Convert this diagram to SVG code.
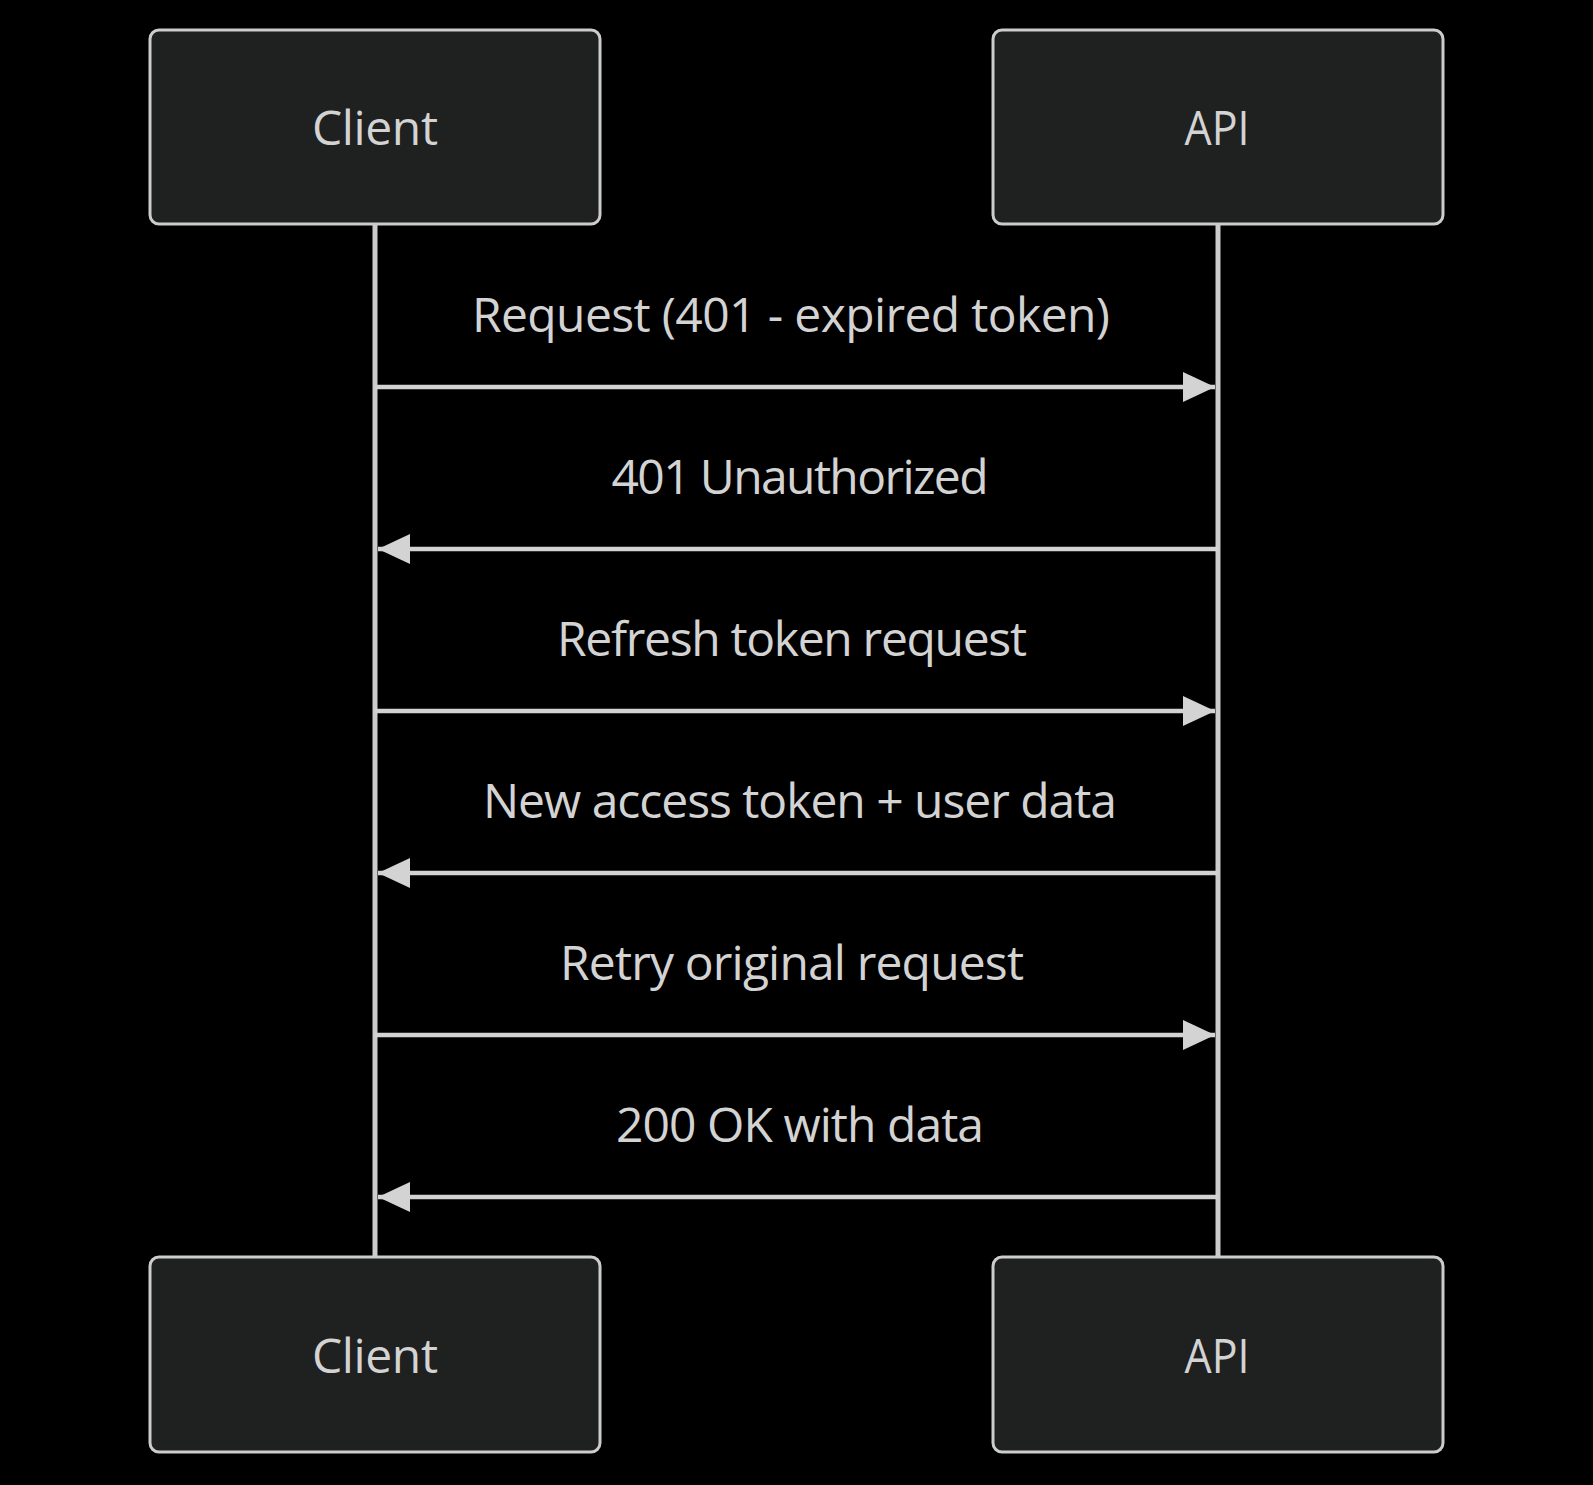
<svg xmlns="http://www.w3.org/2000/svg" width="1593" height="1485" viewBox="0 0 1593 1485">
<style>
.actor{fill:#1f2020;stroke:#cccccc;stroke-width:3}
.lbl{font-family:"Open Sans","Liberation Sans",sans-serif;font-size:48px;fill:#d3d3d3;text-anchor:middle}
.life{stroke:#cccccc;stroke-width:5}
.msg{stroke:#d3d3d3;stroke-width:4.5;fill:none;marker-end:url(#arrow)}
</style>
<defs>
<marker id="arrow" viewBox="0 0 32 30" refX="32" refY="15" markerWidth="32" markerHeight="30" markerUnits="userSpaceOnUse" orient="auto">
<path d="M0,0 L32,15 L0,30 Z" fill="#d3d3d3"/>
</marker>
</defs>
<rect width="1593" height="1485" fill="#000000"/>
<g id="lifelines">
<line class="life" x1="375" y1="224" x2="375" y2="1257"/>
<line class="life" x1="1218" y1="224" x2="1218" y2="1257"/>
</g>
<g id="client-top">
<rect class="actor" x="150" y="30" width="450" height="194" rx="9"/>
<text class="lbl" x="375" y="145" textLength="126" lengthAdjust="spacing">Client</text>
</g>
<g id="api-top">
<rect class="actor" x="993" y="30" width="450" height="194" rx="9"/>
<text class="lbl" x="1217" y="145" textLength="65" lengthAdjust="spacingAndGlyphs">API</text>
</g>
<g id="client-bottom">
<rect class="actor" x="150" y="1257" width="450" height="195" rx="9"/>
<text class="lbl" x="375" y="1373" textLength="126" lengthAdjust="spacing">Client</text>
</g>
<g id="api-bottom">
<rect class="actor" x="993" y="1257" width="450" height="195" rx="9"/>
<text class="lbl" x="1217" y="1373" textLength="65" lengthAdjust="spacingAndGlyphs">API</text>
</g>
<g id="connectors">
<line class="msg" x1="375" y1="387" x2="1215" y2="387"/>
<text class="lbl" x="791" y="332" textLength="638" lengthAdjust="spacing">Request (401 - expired token)</text>
<line class="msg" x1="1218" y1="549" x2="378" y2="549"/>
<text class="lbl" x="800" y="494" textLength="377" lengthAdjust="spacing">401 Unauthorized</text>
<line class="msg" x1="375" y1="711" x2="1215" y2="711"/>
<text class="lbl" x="792" y="656" textLength="470" lengthAdjust="spacing">Refresh token request</text>
<line class="msg" x1="1218" y1="873" x2="378" y2="873"/>
<text class="lbl" x="800" y="818" textLength="634" lengthAdjust="spacing">New access token + user data</text>
<line class="msg" x1="375" y1="1035" x2="1215" y2="1035"/>
<text class="lbl" x="792" y="980" textLength="464" lengthAdjust="spacing">Retry original request</text>
<line class="msg" x1="1218" y1="1197" x2="378" y2="1197"/>
<text class="lbl" x="800" y="1142" textLength="368" lengthAdjust="spacing">200 OK with data</text>
</g>
</svg>
